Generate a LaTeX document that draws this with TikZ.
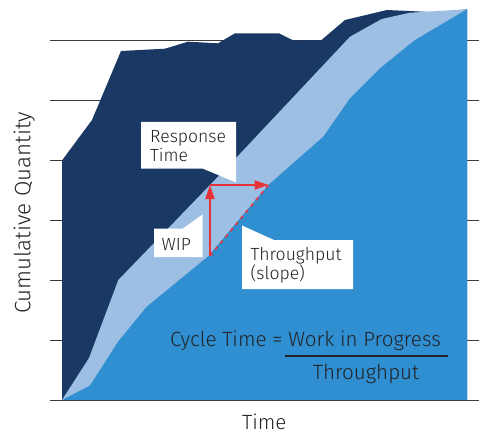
\documentclass[tikz,border=0pt]{standalone}
\usepackage{fontspec}
\IfFontExistsTF{Fira Sans Book}{\setmainfont{Fira Sans Book}}{\IfFontExistsTF{Fira Sans Light}{\setmainfont{Fira Sans Light}}{\setmainfont{Fira Sans}}}
\usetikzlibrary{arrows.meta}
\definecolor{navy}{RGB}{25,56,100}
\definecolor{lightb}{RGB}{157,191,227}
\definecolor{midb}{RGB}{47,143,208}
\definecolor{gridc}{RGB}{60,60,60}
\definecolor{ink}{RGB}{35,35,40}
\definecolor{redc}{RGB}{232,50,56}
\begin{document}
\begin{tikzpicture}[x=1pt,y=-1pt,
  gridline/.style={draw=gridc, line width=1.3pt},
  callout/.style={fill=white, draw=none},
  lbl/.style={text=ink, inner sep=0pt, font=\fontsize{17.6}{18.3}\selectfont, align=left},
  big/.style={text=ink, inner sep=0pt, font=\fontsize{20.6}{20}\selectfont},
  redarr/.style={draw=redc, line width=2pt, -{Triangle[length=14pt,width=9pt]}},
  reddash/.style={draw=redc, line width=1.5pt, dash pattern=on 4pt off 4pt}]
\useasboundingbox (0,0) rectangle (487,433);
\foreach \y in {40.5,100.5,160.5,220.5,280.5,340.5} \draw[gridline] (50,\y) -- (479,\y);
\fill[navy] (62,400) -- (62,160.5) -- (92,120) -- (121,51) -- (165,48.7) -- (188,41.7) -- (218,43.3) -- (235,33.3) -- (279,33.3) -- (293.5,40.5) -- (321.5,40) -- (345,20) -- (387,10) -- (437,12.3) -- (467,9.3) -- (467,400) -- cycle;
\fill[lightb] (62,400) -- (89,358) -- (118.3,280) -- (236,158) -- (350,36.7) -- (381.7,19) -- (410,12.7) -- (467,9.3) -- (467,400) -- cycle;
\fill[midb] (62,400) -- (90,385.5) -- (118,341.7) -- (146.7,306.7) -- (208,256.5) -- (268.3,185) -- (323.3,136.7) -- (350,98.3) -- (380,68.3) -- (415,40) -- (467,9.3) -- (467,400) -- cycle;
\draw[gridline, line width=1.6pt] (50,400.5) -- (479,400.5);
% callouts
\fill[callout] (141,122) -- (236,122) -- (236,182.5) -- (203,168.7) -- (141,168.7) -- cycle;
\fill[callout] (154,228.5) -- (183,228.5) -- (202.5,214.5) -- (202.5,257) -- (154,257) -- cycle;
\fill[callout] (242,225.5) -- (274,240) -- (353,240) -- (353,289) -- (242,289) -- cycle;
% labels
\node[lbl, anchor=base west] (resp) at (150,161) {Response\\Time};
\node[lbl, anchor=base west] (wip) at (161.5,250.5) {WIP};
\node[lbl, anchor=base west] (thr) at (250.5,279.5) {Throughput\\(slope)};
\node[big, anchor=base west] (ct) at (170,346) {Cycle Time = Work in Progress};
\coordinate (barl) at (285,356);
\coordinate (barr) at (448,356);
\draw[draw=ink, line width=1.3pt] (barl) -- (barr);
\node[big, anchor=base] (den) at (366,379) {Throughput};
\node[big, anchor=base] (xlab) at (264.3,429.5) {Time};
\node[big, rotate=90, anchor=base, font=\fontsize{22.3}{22}\selectfont] (ylab) at (30.5,213) {Cumulative Quantity};
% red arrows
\coordinate (wipb) at (210,256);
\coordinate (rc) at (210,185);
\coordinate (rte) at (268.5,185);
\draw[reddash] (wipb) -- (rte);
\draw[redarr] (wipb) -- (rc);
\draw[redarr] (rc) -- (rte);
\end{tikzpicture}
\end{document}
